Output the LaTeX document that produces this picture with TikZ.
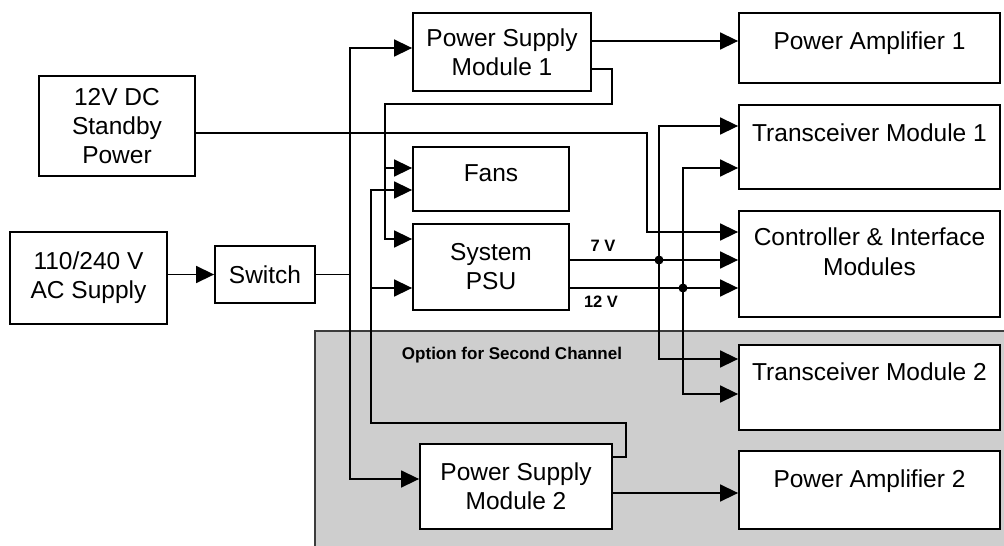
\documentclass[tikz,border=0pt]{standalone}
\usepackage{fontspec}
\setmainfont{Liberation Sans}
\usepackage{xcolor}
\usetikzlibrary{arrows.meta, positioning}
\definecolor{optgrey}{RGB}{206,206,206}
\definecolor{optedge}{RGB}{60,60,60}

\begin{document}
\begin{tikzpicture}[
  x=1pt, y=-1pt,
  box/.style={rectangle, draw, line width=1.8pt, fill=white, align=center,
              inner sep=0pt, font=\fontsize{24.5}{29}\selectfont},
  rbox/.style={box, minimum width=261pt},
  rtxt/.style={inner sep=0pt, align=center, font=\fontsize{24.5}{30}\selectfont},
  volt/.style={font=\bfseries\fontsize{16.5}{18}\selectfont},
  arr/.style={-{Triangle[length=18pt, width=17pt]}, line width=1.5pt}
]
\useasboundingbox (0,0) rectangle (1004,546);

% second channel area
\draw[fill=optgrey, draw=optedge, line width=1.5pt] (315,331) rectangle (1014,556);
\node[font=\bfseries\fontsize{17}{19}\selectfont] (opt) at (512,355) {Option for Second Channel};

% left side
\node[box, minimum width=156pt, minimum height=100pt] (standby) at (117,126) {12V DC\\Standby\\Power};
\node[box, minimum width=157pt, minimum height=92pt] (ac) at (88.5,278) {110/240 V\\AC Supply};
\node[box, minimum width=100pt, minimum height=57pt] (switch) at (265,274.5) {Switch};

% middle
\node[box, minimum width=178pt, minimum height=78pt] (psm1) at (502,52) {Power Supply\\Module 1};
\node[box, minimum width=156pt, minimum height=64pt, text depth=12pt] (fans) at (491,179) {Fans};
\node[box, minimum width=156pt, minimum height=86pt] (psu) at (491,267) {System\\PSU};
\node[box, minimum width=192pt, minimum height=85pt] (psm2) at (516,486.5) {Power Supply\\Module 2};

% right side
\node[rbox, minimum height=70pt] (pa1) at (869.5,48) {};
\node[rbox, minimum height=84pt] (tm1) at (869.5,147) {};
\node[rbox, minimum height=106pt] (ctrl) at (869.5,264) {};
\node[rbox, minimum height=85pt] (tm2) at (869.5,387.5) {};
\node[rbox, minimum height=78pt] (pa2) at (869.5,490) {};
\node[rtxt, below=19pt of pa1.north] (pa1t) {Power Amplifier 1};
\node[rtxt, below=19pt of tm1.north] (tm1t) {Transceiver Module 1};
\node[rtxt, below=17pt of ctrl.north] (ctrlt) {Controller \& Interface\\Modules};
\node[rtxt, below=18pt of tm2.north] (tm2t) {Transceiver Module 2};
\node[rtxt, below=19pt of pa2.north] (pa2t) {Power Amplifier 2};

% bends and junctions
\coordinate (busA) at (350,274.5);
\coordinate (busB) at (385,104);
\coordinate (loopA) at (612,104);
\coordinate (busC) at (371,423);
\coordinate (loopB) at (626,423);
\coordinate (sbA) at (647,133);
\coordinate (j7) at (659,260);
\coordinate (j12) at (683,288);

% mains
\draw[arr] (ac.east |- switch.west) -- (switch.west);
\draw[arr] (switch.east) -- (busA) |- ([yshift=4pt]psm1.west);
\draw[arr] (busA) |- ([yshift=7.5pt]psm2.west);

% power supply modules
\draw[arr] ([yshift=11pt]psm1.east) -- ([yshift=11pt]psm1.east -| pa1.west);
\draw[arr] ([yshift=-17pt]psm1.east) -| (loopA) -- (busB) |- ([yshift=28pt]psu.west);
\draw[arr] ([yshift=11pt]busB |- fans.west) -- ([yshift=11pt]fans.west);
\draw[arr] ([yshift=-6.5pt]psm2.east) -- ([yshift=-6.5pt]psm2.east -| pa2.west);
\draw[arr] ([yshift=29.5pt]psm2.east) -| (loopB) -- (busC) |- ([yshift=-11pt]fans.west);
\draw[arr] ([yshift=-21pt]busC |- psu.west) -- ([yshift=-21pt]psu.west);

% standby and system psu rails
\draw[arr] ([yshift=-7pt]standby.east) -- (sbA) |- ([yshift=32pt]ctrl.west);
\draw[arr] ([yshift=7pt]psu.east) -- ([yshift=7pt]psu.east -| ctrl.west);
\draw[arr] ([yshift=-21pt]psu.east) -- ([yshift=-21pt]psu.east -| ctrl.west);
\draw[arr] (j7) |- ([yshift=21pt]tm1.west);
\draw[arr] (j7) |- ([yshift=28.5pt]tm2.west);
\draw[arr] (j12) |- ([yshift=-21pt]tm1.west);
\draw[arr] (j12) |- ([yshift=-6.5pt]tm2.west);
\fill (j7) circle (4.5pt);
\fill (j12) circle (4.5pt);
\node[volt] (v7) at (603,246) {7 V};
\node[volt] (v12) at (601,302) {12 V};
\end{tikzpicture}
\end{document}
